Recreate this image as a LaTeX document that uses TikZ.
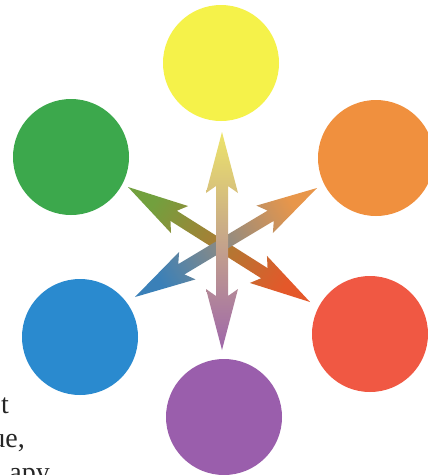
\documentclass[tikz,border=0pt]{standalone}
\usepackage{fontspec}
\setmainfont{Liberation Serif}
\usetikzlibrary{calc}
\definecolor{cyellow}{HTML}{F5F24A}
\definecolor{corange}{HTML}{F0903E}
\definecolor{cred}{HTML}{F05843}
\definecolor{cpurple}{HTML}{9A5EAC}
\definecolor{cblue}{HTML}{2A8ACF}
\definecolor{cgreen}{HTML}{3CA84C}
\definecolor{ayellow}{HTML}{EDE46A}
\definecolor{apurple}{HTML}{9E66AA}
\definecolor{amidv}{HTML}{D6B8A6}
\definecolor{agreen}{HTML}{72A03E}
\definecolor{ared}{HTML}{E4582A}
\definecolor{amidg}{HTML}{A48C58}
\definecolor{aorange}{HTML}{E8964A}
\definecolor{ablue}{HTML}{3A80B8}
\definecolor{amido}{HTML}{A29A8E}
\tikzset{
  disc/.style={circle, minimum size=116pt, inner sep=0pt, draw=none},
  pagetext/.style={font=\fontsize{28}{33}\selectfont, anchor=base east, inner sep=0pt, text=black!85},
}
\newcommand\ah{54pt}
\newcommand\ab{61pt}
\newcommand\aW{16pt}
\newcommand\aw{6pt}
% #1,#2: tip names; #3 top colour (at #1), #4 middle, #5 bottom colour (at #2), #6 shading angle
\newcommand\dblarrow[6]{%
  \path ($(#1)!\ah!(#2)$) coordinate (n1) ($(#1)!\ab!(#2)$) coordinate (b1)
        ($(#2)!\ah!(#1)$) coordinate (n2) ($(#2)!\ab!(#1)$) coordinate (b2);
  \shade[top color=#3, middle color=#4, bottom color=#5, shading angle=#6]
    (#1) -- ($(b1)!\aW!90:(#2)$) -- ($(n1)!\aw!90:(#2)$)
    -- ($(n2)!\aw!-90:(#1)$) -- ($(b2)!\aW!-90:(#1)$) -- (#2)
    -- ($(b2)!\aW!90:(#1)$) -- ($(n2)!\aw!90:(#1)$)
    -- ($(n1)!\aw!-90:(#2)$) -- ($(b1)!\aW!-90:(#2)$) -- cycle;
}
\begin{document}
\begin{tikzpicture}[x=1pt, y=-1pt]
\useasboundingbox (0,0) rectangle (428,475);
\fill[white] (0,0) rectangle (428,475);
\clip (0,0) rectangle (428,475);

% colour discs
\node[disc, fill=cyellow] (yellow) at (221,63) {};
\node[disc, fill=corange] (orange) at (376,158) {};
\node[disc, fill=cred]    (red)    at (370,334) {};
\node[disc, fill=cpurple] (purple) at (224,417) {};
\node[disc, fill=cblue]   (blue)   at (80,337)  {};
\node[disc, fill=cgreen]  (green)  at (71,157)  {};

% arrow tips
\coordinate (tY) at (222,132);
\coordinate (tP) at (222,350);
\coordinate (tG) at (128,187);
\coordinate (tR) at (310,302);
\coordinate (tO) at (317,188);
\coordinate (tB) at (135,297);

\dblarrow{tG}{tR}{agreen}{amidg}{ared}{57.7}
\dblarrow{tO}{tB}{aorange}{amido}{ablue}{-59.1}
\dblarrow{tY}{tP}{ayellow}{amidv}{apurple}{0}

% fragments of page text at the left edge
\node[pagetext] (l1) at (9,413) {t};
\node[pagetext] (l2) at (25,447) {ue,};
\node[pagetext] (l3) at (50,481) {apy};
\end{tikzpicture}
\end{document}
